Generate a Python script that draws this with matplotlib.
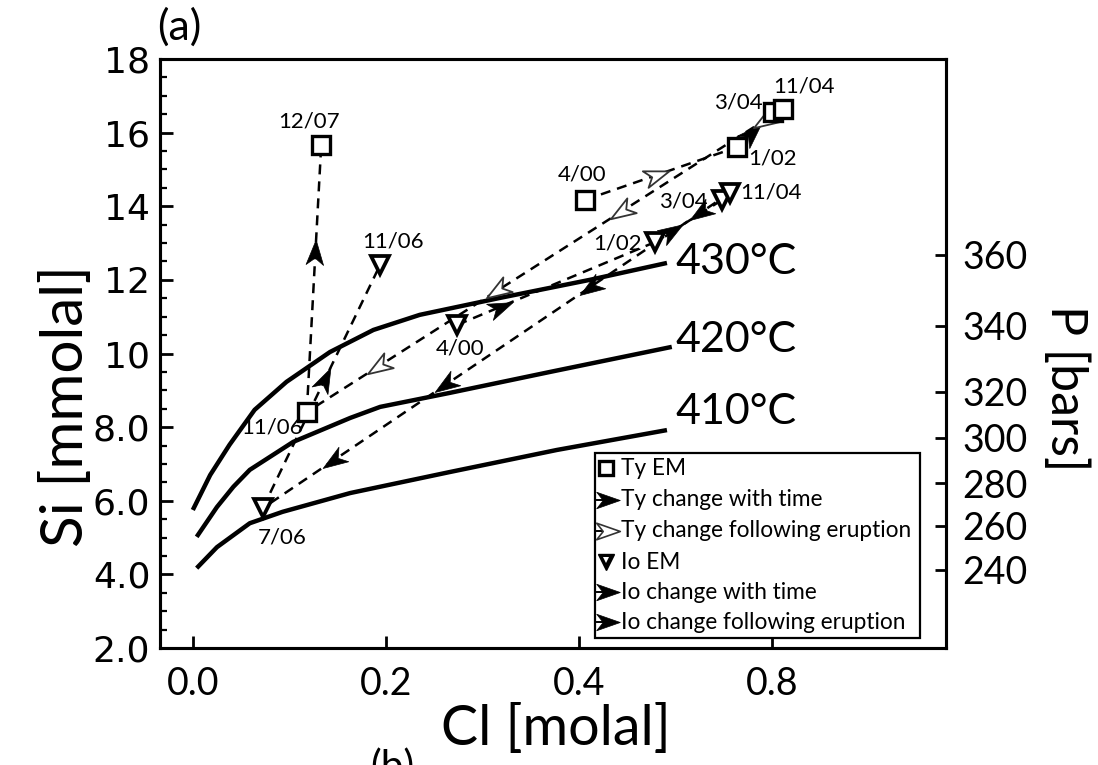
import math
import matplotlib
matplotlib.use("Agg")
import matplotlib.pyplot as plt
from matplotlib.path import Path
from matplotlib.markers import MarkerStyle
from matplotlib.transforms import Affine2D
from matplotlib.patches import Rectangle

plt.rcParams['font.family'] = ['Lato', 'DejaVu Sans']

# isotherms (Cl [molal], Si [mmolal])
cl_430 = [0.000, 0.018, 0.038, 0.064, 0.097, 0.142, 0.187, 0.235, 0.318, 0.411, 0.491]
si_430 = [5.75, 6.70, 7.52, 8.47, 9.23, 10.04, 10.64, 11.05, 11.51, 12.00, 12.46]
cl_420 = [0.004, 0.025, 0.042, 0.059, 0.104, 0.163, 0.194, 0.266, 0.370, 0.496]
si_420 = [5.02, 5.83, 6.38, 6.84, 7.60, 8.25, 8.55, 8.93, 9.50, 10.18]
cl_410 = [0.004, 0.025, 0.059, 0.093, 0.163, 0.266, 0.377, 0.491]
si_410 = [4.17, 4.74, 5.39, 5.70, 6.21, 6.78, 7.38, 7.92]

# Ty end-members
ty_dates = ['4/00', '1/02', '3/04', '11/04', '11/06', '12/07']
ty_cl = [0.406, 0.564, 0.601, 0.611, 0.118, 0.133]
ty_si = [14.17, 15.61, 16.57, 16.65, 8.41, 15.67]

# Io end-members
io_dates = ['4/00', '1/02', '3/04', '11/04', '7/06', '11/06']
io_cl = [0.274, 0.479, 0.548, 0.556, 0.0725, 0.194]
io_si = [10.78, 13.03, 14.17, 14.36, 5.80, 12.41]

# pressure axis: Si position of each pressure tick
p_labels = ['360', '340', '320', '300', '280', '260', '240']
p_si = [12.68, 10.75, 8.96, 7.71, 6.48, 5.32, 4.12]

xtick_pos = [0.0, 0.2, 0.4, 0.6]
xtick_labels = ['0.0', '0.2', '0.4', '0.8']
ytick_pos = [2, 4, 6, 8, 10, 12, 14, 16, 18]
ytick_labels = ['2.0', '4.0', '6.0', '8.0', '10', '12', '14', '16', '18']

fig = plt.figure(figsize=(10.98, 7.65), dpi=100)
ax = fig.add_axes([0.1457, 0.1529, 0.7159, 0.77])
ax.set_xlim(-0.034, 0.780)
ax.set_ylim(2.0, 18.0)

for c, s in [(cl_430, si_430), (cl_420, si_420), (cl_410, si_410)]:
    ax.plot(c, s, color='black', lw=3.2, solid_capstyle='butt', zorder=2)

ax.text(0.50, 12.49, '430°C', fontsize=31, va='center', ha='left')
ax.text(0.50, 10.37, '420°C', fontsize=31, va='center', ha='left')
ax.text(0.50, 8.41, '410°C', fontsize=31, va='center', ha='left')

# stealth arrowhead shape
head = Path([(1, 0), (-1, 0.7), (-0.45, 0), (-1, -0.7), (1, 0)],
            [Path.MOVETO, Path.LINETO, Path.LINETO, Path.LINETO, Path.CLOSEPOLY])


def arrow_head(x, y, angle, gray, size=18):
    m = MarkerStyle(head, transform=Affine2D().rotate_deg(angle))
    kw = dict(marker=m, markersize=size, linestyle='none', zorder=4)
    if gray:
        kw.update(markerfacecolor='white', markeredgecolor='#333333', markeredgewidth=1.3)
    else:
        kw.update(markerfacecolor='black', markeredgecolor='black', markeredgewidth=0.5)
    ax.plot([x], [y], **kw)


def path_arrow(xs, ys, i, j, fracs, gray):
    x0, y0, x1, y1 = xs[i], ys[i], xs[j], ys[j]
    ax.plot([x0, x1], [y0, y1], color='black', lw=1.8, dashes=(4, 2.8), zorder=3)
    p0 = ax.transData.transform((x0, y0))
    p1 = ax.transData.transform((x1, y1))
    ang = math.degrees(math.atan2(p1[1] - p0[1], p1[0] - p0[0]))
    for f in fracs:
        arrow_head(x0 + f * (x1 - x0), y0 + f * (y1 - y0), ang, gray)


# Ty trajectory
path_arrow(ty_cl, ty_si, 0, 1, [0.47], True)
path_arrow(ty_cl, ty_si, 1, 2, [0.4], False)
path_arrow(ty_cl, ty_si, 2, 3, [], False)
path_arrow(ty_cl, ty_si, 3, 4, [0.04, 0.34, 0.60, 0.85], True)
path_arrow(ty_cl, ty_si, 4, 5, [0.6], False)

# Io trajectory
path_arrow(io_cl, io_si, 0, 1, [0.22], False)
path_arrow(io_cl, io_si, 1, 2, [0.25], False)
path_arrow(io_cl, io_si, 2, 3, [], False)
path_arrow(io_cl, io_si, 3, 4, [0.064, 0.30, 0.61, 0.85], False)
path_arrow(io_cl, io_si, 4, 5, [0.53], False)

ax.plot(ty_cl, ty_si, 's', ms=12.5, mfc='white', mec='black', mew=2.4, zorder=5)
ax.plot(io_cl, io_si, 'v', ms=13.5, mfc='white', mec='black', mew=2.7, zorder=5)

# date labels (offsets in points)
ty_off = [(-2, 18), (25, -8), (-25, 6.5), (15, 16), (-25, -11), (-9, 17)]
io_off = [(2, -17), (-27, -1), (-28, -1), (30, 0), (14, -21), (9, 17)]
for d, x, y, o in zip(ty_dates, ty_cl, ty_si, ty_off):
    ax.annotate(d, (x, y), xytext=o, textcoords='offset points',
                ha='center', va='center', fontsize=16, zorder=6)
for d, x, y, o in zip(io_dates, io_cl, io_si, io_off):
    ax.annotate(d, (x, y), xytext=o, textcoords='offset points',
                ha='center', va='center', fontsize=16, zorder=6)

# legend box drawn by hand
ax.add_patch(Rectangle((0.553, 0.017), 0.414, 0.314, transform=ax.transAxes,
                       facecolor='white', edgecolor='black', lw=1.6, zorder=6))
leg_y = [0.305, 0.252, 0.199, 0.146, 0.095, 0.044]
leg_text = ['Ty EM', 'Ty change with time', 'Ty change following eruption',
            'Io EM', 'Io change with time', 'Io change following eruption']
for yy, t in zip(leg_y, leg_text):
    ax.text(0.586, yy, t, transform=ax.transAxes, fontsize=16.3, va='center',
            ha='left', zorder=7)
ax.plot([0.567], [leg_y[0]], 's', ms=10, mfc='white', mec='black', mew=2.4,
        transform=ax.transAxes, zorder=7)
ax.plot([0.567], [leg_y[3]], 'v', ms=12, mfc='black', mec='black', mew=1,
        transform=ax.transAxes, zorder=7)
ax.plot([0.567], [leg_y[3] + 0.004], 'v', ms=4, mfc='white', mec='white', mew=0,
        transform=ax.transAxes, zorder=8)
for k, g in [(1, False), (2, True), (4, False), (5, False)]:
    ax.plot([0.556, 0.570], [leg_y[k], leg_y[k]], color='black', lw=1.4,
            transform=ax.transAxes, zorder=7)
    m = MarkerStyle(head)
    ax.plot([0.570], [leg_y[k]], marker=m, markersize=17, linestyle='none',
            markerfacecolor='white' if g else 'black',
            markeredgecolor='#333333' if g else 'black',
            markeredgewidth=1.2 if g else 0.5, transform=ax.transAxes, zorder=8)

# axes styling
for sp in ax.spines.values():
    sp.set_linewidth(2.2)
ax.set_xticks(xtick_pos)
ax.set_xticklabels(xtick_labels, fontsize=27)
ax.set_yticks(ytick_pos)
ax.set_yticklabels(ytick_labels, fontsize=26, family='DejaVu Sans')
ax.set_yticks([v + 0.5 * k for v in range(2, 18, 2) for k in range(1, 4)], minor=True)
ax.tick_params(axis='both', which='major', direction='in', length=9, width=2)
ax.tick_params(axis='y', which='minor', direction='in', length=5, width=1.6)
ax.tick_params(axis='x', pad=13)
ax.tick_params(axis='y', pad=7)

ax.set_xlabel('Cl [molal]', fontsize=40)
ax.xaxis.set_label_coords(0.503, -0.095)
ax.set_ylabel('Si [mmolal]', fontsize=42)
ax.yaxis.set_label_coords(-0.085, 0.41)

ax2 = ax.twinx()
ax2.set_ylim(ax.get_ylim())
ax2.set_yticks(p_si)
ax2.set_yticklabels(p_labels, fontsize=27)
ax2.tick_params(axis='y', direction='in', length=8, width=2, pad=12)
for sp in ax2.spines.values():
    sp.set_linewidth(2.2)
fig.text(0.970, 0.493, 'P [bars]', rotation=270, fontsize=36, ha='center', va='center')

fig.text(0.143, 0.99, '(a)', fontsize=31, ha='left', va='top')
fig.text(0.337, 0.022, '(b)', fontsize=29, ha='left', va='top')

fig.savefig('out.png', dpi=100)
